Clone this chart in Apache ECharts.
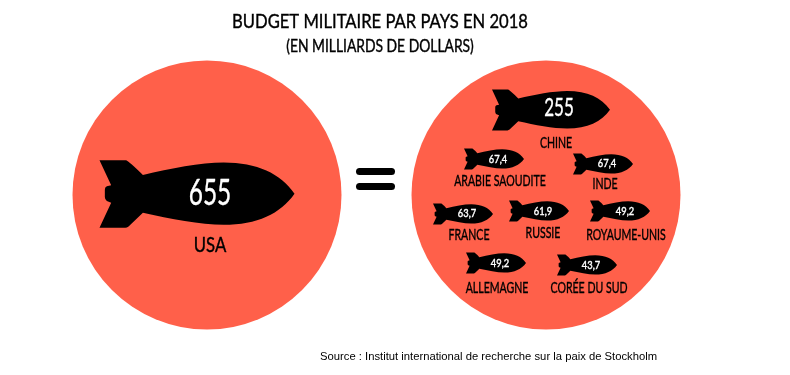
<!DOCTYPE html>
<html lang="fr">
<head>
<meta charset="utf-8">
<title>Budget militaire par pays en 2018</title>
<style>
  html, body { margin: 0; padding: 0; background: #fff; }
  #chart { width: 790px; height: 375px; }
</style>
</head>
<body>
<div id="chart"></div>
<script src="https://cdn.jsdelivr.net/npm/echarts@6/dist/echarts.min.js"></script>
<script>
// data
const countries = ['USA', 'Chine', 'Arabie Saoudite', 'Inde', 'France', 'Russie', 'Royaume-Unis', 'Allemagne', 'Corée du Sud']
const budgets = [655, 255, 67.4, 67.4, 63.7, 61.9, 49.2, 49.2, 43.7]

// layout, in page pixels
const discs = [[207, 195], [546, 195]]
const bombX = [197, 551, 494, 603, 463, 539, 620, 496, 587]
const bombY = [194, 110, 159, 164, 214, 211, 211, 263, 265]
const bombW = [195, 118, 60, 60, 60, 60, 60, 60, 60]
const valueX = [210, 559, 498, 607, 467, 543, 625, 500, 591]
const valueY = [193, 108, 159, 163, 213, 211, 211, 263, 265]
const nameX = [210, 556, 500, 605, 469, 543, 626, 497, 589]
const nameY = [245, 143, 181, 184, 235, 233, 235, 288, 288]

const BOMB = 'path://M118 270L198 270Q205 272 248 314C330 295 420 277 490 277C590 277 660 310 702 370C660 430 590 463 490 463C420 463 330 445 248 427L205 468Q200 472 195 472L118 472L153 397L140 392Q134 388 134 380L134 358Q134 350 140 348L153 345Z'
const HAND = 'Lato, "Noto Sans", sans-serif'

// no condensed face is installed, so the lettering is squeezed horizontally
function lettering(text, x, y, size, squeeze, color) {
  return {
    type: 'text',
    x: x,
    y: y,
    scaleX: squeeze,
    z2: 10,
    style: {
      legacy: false,
      text: text,
      x: 0,
      y: 0,
      align: 'center',
      verticalAlign: 'middle',
      font: size + 'px ' + HAND,
      fill: color,
      stroke: color,
      lineWidth: 0.4
    }
  }
}

const myChart = echarts.init(document.getElementById('chart'))

myChart.setOption({
  animation: false,
  backgroundColor: '#fff',
  title: {
    text: 'Source : Institut international de recherche sur la paix de Stockholm',
    left: 320, top: 351, padding: 0,
    textStyle: {fontFamily: '"Liberation Sans", Arial, sans-serif', fontSize: 11.25, fontWeight: 'normal', color: '#000'}
  },
  grid: {left: 0, right: 0, top: 0, bottom: 0},
  xAxis: {type: 'value', min: 0, max: 790, show: false},
  yAxis: {type: 'value', min: 0, max: 375, inverse: true, show: false},
  graphic: [
    lettering('BUDGET MILITAIRE PAR PAYS EN 2018', 380, 22, 20, 0.83, '#000'),
    lettering('(EN MILLIARDS DE DOLLARS)', 380, 47, 17, 0.815, '#000'),
    {type: 'rect', shape: {x: 356, y: 168, width: 39, height: 7, r: 3.5}, style: {fill: '#000'}},
    {type: 'rect', shape: {x: 356, y: 183, width: 39, height: 7, r: 3.5}, style: {fill: '#000'}}
  ],
  series: [
    {
      type: 'scatter',
      silent: true,
      symbol: 'circle',
      symbolSize: 269,
      itemStyle: {color: '#ff604a', opacity: 1},
      data: discs
    },
    {
      type: 'scatter',
      silent: true,
      symbol: BOMB,
      itemStyle: {color: '#000', opacity: 1},
      data: budgets.map((v, i) => ({
        value: [bombX[i], bombY[i]],
        symbolSize: [bombW[i], bombW[i] * 0.346]
      }))
    },
    {
      type: 'custom',
      silent: true,
      z: 5,
      clip: false,
      coordinateSystem: 'cartesian2d',
      encode: {x: 0, y: 1},
      data: valueX.map((x, i) => [x, valueY[i]]),
      renderItem: (params, api) => {
        const i = params.dataIndex
        const p = api.coord([api.value(0), api.value(1)])
        const size = i === 0 ? 36 : i === 1 ? 25 : 11
        return lettering(String(budgets[i]).replace('.', ','), p[0], p[1], size, i < 2 ? 0.68 : 0.85, '#fff')
      }
    },
    {
      type: 'custom',
      silent: true,
      z: 5,
      clip: false,
      coordinateSystem: 'cartesian2d',
      encode: {x: 0, y: 1},
      data: nameX.map((x, i) => [x, nameY[i]]),
      renderItem: (params, api) => {
        const i = params.dataIndex
        const p = api.coord([api.value(0), api.value(1)])
        return lettering(countries[i].toUpperCase(), p[0], p[1], i === 0 ? 22 : 16, i === 0 ? 0.76 : 0.66, '#000')
      }
    }
  ]
})
</script>
</body>
</html>
